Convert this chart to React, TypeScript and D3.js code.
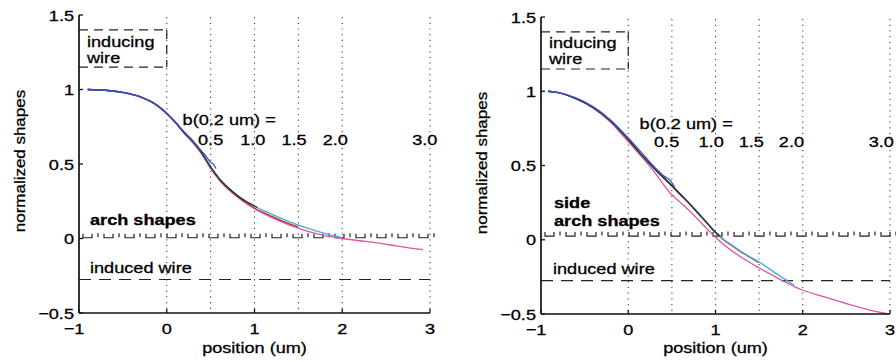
import React from 'react';
import * as d3 from 'd3';

// ---------- data ----------
const xTicks = [-1, 0, 1, 2, 3];
const xTickLabels = ['\u22121', '0', '1', '2', '3'];
const yTicks = [-0.5, 0, 0.5, 1, 1.5];
const yTickLabels = ['\u22120.5', '0', '0.5', '1', '1.5'];
const gridX = [0, 0.5, 1, 1.5, 2, 3];
const bLabels = ['0.5', '1.0', '1.5', '2.0', '3.0'];
const leftBLabelX = [0.5, 0.98, 1.45, 1.92, 2.94];
const rightBLabelX = [0.44, 0.95, 1.41, 1.87, 2.9];
const inducingTop = 1.4;
const inducingBottom = 1.15;
const inducedLevel = -0.275;
const leftArchLevel = 0.005;
const rightArchLevel = 0.025;

// left panel ("arch shapes")
const L05x = [-0.9, -0.7, -0.5, -0.3, -0.1, 0, 0.1, 0.2, 0.3, 0.4, 0.45, 0.5, 0.53, 0.56];
const L05y = [1.0, 0.995, 0.98, 0.95, 0.89, 0.84, 0.78, 0.715, 0.655, 0.585, 0.55, 0.51, 0.5, 0.47];
const L10x = [-0.9, -0.7, -0.5, -0.3, -0.1, 0, 0.1, 0.2, 0.3, 0.4, 0.5, 0.6, 0.7, 0.8, 0.9, 1.0, 1.03];
const L10y = [1.0, 0.995, 0.98, 0.95, 0.89, 0.84, 0.78, 0.71, 0.65, 0.575, 0.48, 0.4, 0.34, 0.29, 0.25, 0.218, 0.208];
const L15x = [-0.9, -0.7, -0.5, -0.3, -0.1, 0, 0.1, 0.2, 0.3, 0.4, 0.5, 0.6, 0.7, 0.8, 0.9, 1.0, 1.1, 1.2, 1.3, 1.4, 1.5];
const L15y = [1.0, 0.995, 0.98, 0.95, 0.888, 0.838, 0.777, 0.707, 0.645, 0.57, 0.475, 0.395, 0.335, 0.285, 0.243, 0.205, 0.175, 0.148, 0.122, 0.098, 0.078];
const L20x = [-0.9, -0.7, -0.5, -0.3, -0.1, 0, 0.1, 0.2, 0.3, 0.4, 0.5, 0.6, 0.7, 0.8, 0.9, 1.0, 1.2, 1.4, 1.6, 1.8, 2.0];
const L20y = [1.0, 0.995, 0.98, 0.95, 0.89, 0.84, 0.78, 0.712, 0.65, 0.575, 0.48, 0.402, 0.342, 0.292, 0.252, 0.218, 0.162, 0.112, 0.07, 0.035, 0.005];
const L30x = [-0.9, -0.7, -0.5, -0.3, -0.1, 0, 0.1, 0.2, 0.3, 0.4, 0.5, 0.6, 0.7, 0.8, 0.9, 1.0, 1.2, 1.4, 1.6, 1.8, 2.0, 2.2, 2.4, 2.6, 2.8, 2.92];
const L30y = [1.0, 0.995, 0.978, 0.948, 0.886, 0.835, 0.774, 0.705, 0.64, 0.565, 0.47, 0.39, 0.33, 0.28, 0.237, 0.2, 0.14, 0.09, 0.05, 0.02, 0.0, -0.015, -0.03, -0.048, -0.066, -0.075];

// right panel ("side arch shapes")
const R05x = [-0.92, -0.8, -0.6, -0.4, -0.2, 0, 0.14, 0.3, 0.42, 0.47, 0.5, 0.53];
const R05y = [1.0, 0.99, 0.955, 0.895, 0.805, 0.685, 0.595, 0.49, 0.425, 0.405, 0.385, 0.355];
const R10x = [-0.92, -0.8, -0.6, -0.4, -0.2, 0, 0.14, 0.3, 0.5, 0.6, 0.7, 0.8, 0.9, 1.0, 1.05];
const R10y = [1.0, 0.99, 0.95, 0.89, 0.8, 0.675, 0.58, 0.48, 0.365, 0.305, 0.245, 0.18, 0.115, 0.05, 0.025];
const R15x = [-0.92, -0.8, -0.6, -0.4, -0.2, 0, 0.14, 0.3, 0.5, 0.6, 0.7, 0.8, 0.9, 1.0, 1.1, 1.2, 1.3, 1.4, 1.5];
const R15y = [1.0, 0.99, 0.95, 0.888, 0.798, 0.672, 0.577, 0.476, 0.36, 0.3, 0.24, 0.176, 0.112, 0.048, -0.005, -0.045, -0.085, -0.12, -0.155];
const R20x = [-0.92, -0.8, -0.6, -0.4, -0.2, 0, 0.14, 0.3, 0.5, 0.6, 0.7, 0.8, 0.9, 1.0, 1.1, 1.2, 1.35, 1.5, 1.7, 1.9];
const R20y = [1.0, 0.99, 0.95, 0.89, 0.8, 0.676, 0.58, 0.48, 0.366, 0.306, 0.246, 0.182, 0.117, 0.052, 0.0, -0.04, -0.1, -0.15, -0.23, -0.305];
const R30x = [-0.92, -0.8, -0.6, -0.4, -0.2, 0, 0.15, 0.3, 0.48, 0.6, 0.71, 0.9, 1.09, 1.3, 1.5, 1.75, 2.0, 2.25, 2.5, 2.75, 2.98];
const R30y = [1.0, 0.99, 0.95, 0.885, 0.79, 0.66, 0.56, 0.455, 0.315, 0.25, 0.19, 0.075, -0.03, -0.12, -0.19, -0.27, -0.34, -0.385, -0.43, -0.47, -0.5];

const seriesColors = ['#e0559c', '#c8303c', '#40b0d8', '#1e3328', '#3a52d0'];

type Series = { xs: number[]; ys: number[]; color: string };

const FONT = "'Liberation Sans', Arial, Helvetica, sans-serif";

const T = ({ x, y, anchor = 'start', size = 15.5, weight = 'normal', rotate = 0, children }: any) => (
  <text
    transform={`translate(${x},${y})${rotate ? ` rotate(${rotate})` : ''} scale(1.17,1)`}
    textAnchor={anchor}
    fontSize={size}
    fontWeight={weight}
    fontFamily={FONT}
    fill="#000"
    stroke="#000"
    strokeWidth={0.3}
  >
    {children}
  </text>
);

type PanelProps = {
  xr: [number, number];
  yr: [number, number];
  series: Series[];
  labelX: number[];
  archLevel: number;
  bTitleY: number;
  bRowY: number;
  bTitleX: number;
  archLines: string[];
  archY: number[];
  archX: number;
  inducedX: number;
  inducedY: number;
  inducingY: number[];
  ylabelX: number;
  ylabelY: number;
};

const Panel = (p: PanelProps) => {
  const x = d3.scaleLinear().domain([-1, 3]).range(p.xr);
  const y = d3.scaleLinear().domain([-0.5, 1.5]).range(p.yr);
  const line = d3
    .line<[number, number]>()
    .x((d) => x(d[0]))
    .y((d) => y(d[1]))
    .curve(d3.curveMonotoneX);
  const x0 = x(-1);
  const x1 = x(3);
  const yb = y(-0.5);
  const yt = y(1.5);

  // arch-shape marker line: U-shaped dashes with small ticks between
  const ay = y(p.archLevel);
  let archPath = '';
  for (let px = x0 + 4; px < x1 - 8; px += 21) {
    archPath += `M${px},${ay - 4}V${ay}H${px + 9}V${ay - 4}`;
    archPath += `M${px + 15},${ay - 4.5}V${ay - 0.5}`;
  }

  return (
    <g>
      {/* dotted verticals */}
      {gridX.map((g) => (
        <line key={'g' + g} x1={x(g)} x2={x(g)} y1={yt + 2} y2={yb} stroke="#444" strokeWidth={1.1} strokeDasharray="1.2,4.5" />
      ))}
      {/* inducing wire box */}
      <line x1={x0} x2={x(0)} y1={y(inducingTop)} y2={y(inducingTop)} stroke="#222" strokeWidth={1.2} strokeDasharray="9,6" />
      <line x1={x0} x2={x(0)} y1={y(inducingBottom)} y2={y(inducingBottom)} stroke="#222" strokeWidth={1.2} strokeDasharray="9,6" />
      <line x1={x(0)} x2={x(0)} y1={y(inducingTop)} y2={y(inducingBottom)} stroke="#222" strokeWidth={1.2} strokeDasharray="9,6" />
      {/* induced wire */}
      <line x1={x0} x2={x1} y1={y(inducedLevel)} y2={y(inducedLevel)} stroke="#222" strokeWidth={1.2} strokeDasharray="12,8" />
      {/* arch line */}
      <path d={archPath} fill="none" stroke="#222" strokeWidth={1.2} />
      {/* curves */}
      {p.series.map((s, i) => (
        <path
          key={'s' + i}
          d={line(s.xs.map((v, k) => [v, s.ys[k]] as [number, number])) || ''}
          fill="none"
          stroke={s.color}
          strokeWidth={1.3}
        />
      ))}
      {/* axes */}
      <line x1={x0} x2={x0} y1={yt} y2={yb} stroke="#111" strokeWidth={1.7} />
      <line x1={x0} x2={x1} y1={yb} y2={yb} stroke="#111" strokeWidth={1.7} />
      {yTicks.map((t) => (
        <line key={'yt' + t} x1={x0} x2={x0 + 4} y1={y(t)} y2={y(t)} stroke="#111" strokeWidth={1.3} />
      ))}
      {xTicks.map((t) => (
        <line key={'xt' + t} x1={x(t)} x2={x(t)} y1={yb} y2={yb - 4} stroke="#111" strokeWidth={1.3} />
      ))}
      {yTicks.map((t, i) => (
        <T key={'yl' + t} x={x0 - 5} y={y(t) + 5.5} anchor="end">
          {yTickLabels[i]}
        </T>
      ))}
      {xTicks.map((t, i) => (
        <T key={'xl' + t} x={x(t) - (t < 0 ? 5 : 0)} y={yb + 21} anchor="middle">
          {xTickLabels[i]}
        </T>
      ))}
      <T x={x(1)} y={353} anchor="middle">position (um)</T>
      <T x={p.ylabelX} y={p.ylabelY} anchor="middle" rotate={-90} size={14.5}>
        normalized shapes
      </T>
      {/* annotations */}
      <T x={x0 + 8} y={p.inducingY[0]}>inducing</T>
      <T x={x0 + 8} y={p.inducingY[1]}>wire</T>
      <T x={x(p.bTitleX)} y={p.bTitleY}>b(0.2 um) =</T>
      {bLabels.map((b, i) => (
        <T key={'b' + b} x={x(p.labelX[i])} y={p.bRowY} anchor="middle">
          {b}
        </T>
      ))}
      {p.archLines.map((s, i) => (
        <T key={'a' + i} x={p.archX} y={p.archY[i]} weight="bold">
          {s}
        </T>
      ))}
      <T x={p.inducedX} y={p.inducedY}>induced wire</T>
    </g>
  );
};

const mk = (xs: number[][], ys: number[][]): Series[] =>
  xs.map((xv, i) => ({ xs: xv, ys: ys[i], color: seriesColors[i] }));

export default function App() {
  const leftSeries = mk([L30x, L15x, L20x, L10x, L05x], [L30y, L15y, L20y, L10y, L05y]);
  const rightSeries = mk([R30x, R15x, R20x, R10x, R05x], [R30y, R15y, R20y, R10y, R05y]);
  return (
    <svg
      width={896}
      height={362}
      viewBox="0 0 896 362"
      style={{ position: 'absolute', left: 0, top: 0, background: '#fff' }}
    >
      <rect width={896} height={362} fill="#fff" />
      <Panel
        xr={[79, 430]}
        yr={[313, 15]}
        series={leftSeries}
        labelX={leftBLabelX}
        archLevel={leftArchLevel}
        bTitleX={0.18}
        bTitleY={125}
        bRowY={145}
        archLines={['arch shapes']}
        archY={[225]}
        archX={90}
        inducedX={90}
        inducedY={273}
        inducingY={[47, 63]}
        ylabelX={25}
        ylabelY={161}
      />
      <Panel
        xr={[541, 890]}
        yr={[314, 17]}
        series={rightSeries}
        labelX={rightBLabelX}
        archLevel={rightArchLevel}
        bTitleX={0.13}
        bTitleY={129}
        bRowY={147}
        archLines={['side', 'arch shapes']}
        archY={[208, 226]}
        archX={554}
        inducedX={553}
        inducedY={274}
        inducingY={[48, 64]}
        ylabelX={487}
        ylabelY={163}
      />
    </svg>
  );
}
